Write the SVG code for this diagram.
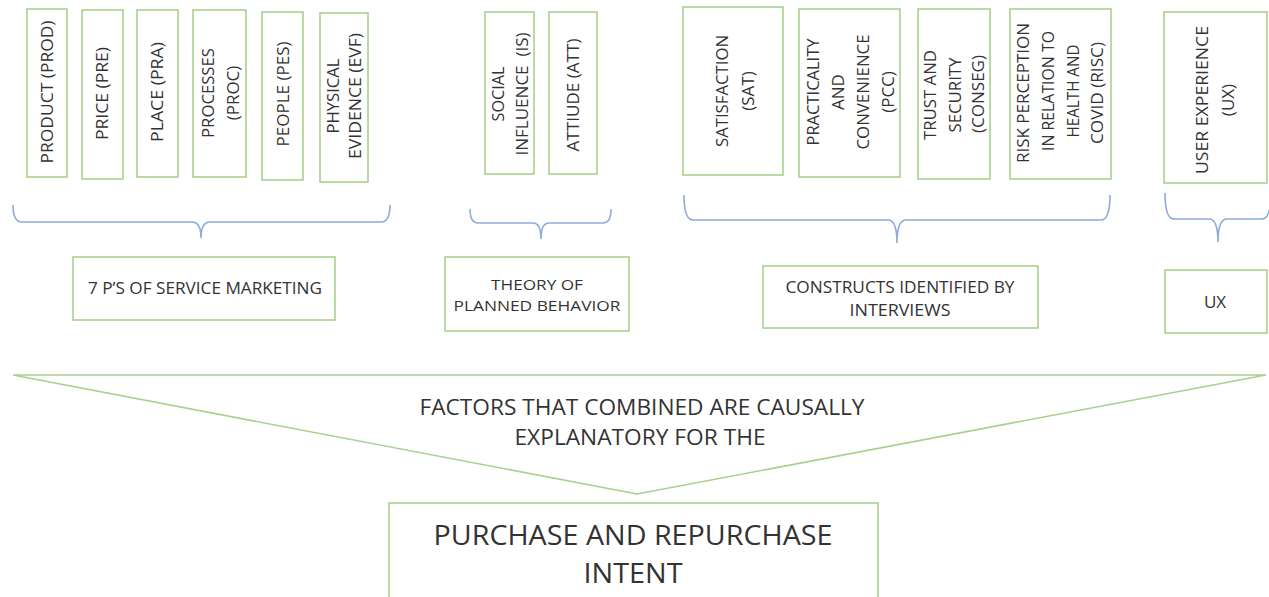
<svg xmlns="http://www.w3.org/2000/svg" width="1269" height="597" viewBox="0 0 1269 597">
<style>
.box{fill:#fff;stroke:#a9d18e;stroke-width:1.6}
.br{fill:none;stroke:#8eaadb;stroke-width:1.6}
text{font-family:"Open Sans","Liberation Sans",sans-serif;fill:#333;text-anchor:middle}
.v{font-size:17px}
.h{font-size:17px}
.t{font-size:15px}
.m{font-size:22px}
.b{font-size:28px}
</style>
<rect width="1269" height="597" fill="#fff"/>
<g id="connectors">
<path class="br" d="M13,205 Q13,222 22,222 L192,222 Q201,222 201,238 Q201,222 210,222 L381,222 Q390,222 390,205"/>
<path class="br" d="M470,209 Q470,223 478,223 L533,223 Q541,223 541,239 Q541,223 549,223 L603,223 Q611,223 611,209"/>
<path class="br" d="M684,195 Q684,220 693,220 L888,220 Q897,220 897,243 Q897,220 906,220 L1101,220 Q1110,220 1110,195"/>
<path class="br" d="M1165,193 Q1165,219 1174,219 L1209,219 Q1218,219 1218,242 Q1218,219 1227,219 L1262,219 Q1271,219 1271,193"/>
</g>
<g id="prod"><rect class="box" x="27" y="9" width="40" height="168"/>
<text class="v" transform="translate(53,92) rotate(-90)" textLength="143" lengthAdjust="spacingAndGlyphs">PRODUCT (PROD)</text></g>
<g id="pre"><rect class="box" x="82" y="10" width="41" height="169"/>
<text class="v" transform="translate(108,93.5) rotate(-90)" textLength="93" lengthAdjust="spacingAndGlyphs">PRICE (PRE)</text></g>
<g id="pra"><rect class="box" x="137" y="10" width="41" height="167"/>
<text class="v" transform="translate(163,92) rotate(-90)" textLength="100" lengthAdjust="spacingAndGlyphs">PLACE (PRA)</text></g>
<g id="proc"><rect class="box" x="193" y="10" width="53" height="167"/>
<text class="v" transform="translate(214,93) rotate(-90)" textLength="90" lengthAdjust="spacingAndGlyphs">PROCESSES</text>
<text class="v" transform="translate(239,93) rotate(-90)">(PROC)</text></g>
<g id="pes"><rect class="box" x="262" y="12" width="41" height="168"/>
<text class="v" transform="translate(289,94) rotate(-90)" textLength="105" lengthAdjust="spacingAndGlyphs">PEOPLE (PES)</text></g>
<g id="evf"><rect class="box" x="320" y="13" width="48" height="169"/>
<text class="v" transform="translate(339,96) rotate(-90)" textLength="75" lengthAdjust="spacingAndGlyphs">PHYSICAL</text>
<text class="v" transform="translate(361,96) rotate(-90)" textLength="126" lengthAdjust="spacingAndGlyphs">EVIDENCE (EVF)</text></g>
<g id="is"><rect class="box" x="485" y="12" width="49" height="162"/>
<text class="v" transform="translate(504,94) rotate(-90)" textLength="55" lengthAdjust="spacingAndGlyphs">SOCIAL</text>
<text class="v" transform="translate(528,94) rotate(-90)" textLength="123" lengthAdjust="spacingAndGlyphs">INFLUENCE&#160; (IS)</text></g>
<g id="att"><rect class="box" x="549" y="12" width="48" height="162"/>
<text class="v" transform="translate(579,95) rotate(-90)" textLength="113" lengthAdjust="spacingAndGlyphs">ATTIUDE (ATT)</text></g>
<g id="sat"><rect class="box" x="683" y="7" width="100" height="168"/>
<text class="v" transform="translate(728,91) rotate(-90)" textLength="112" lengthAdjust="spacingAndGlyphs">SATISFACTION</text>
<text class="v" transform="translate(754,91) rotate(-90)">(SAT)</text></g>
<g id="pcc"><rect class="box" x="799" y="9" width="101" height="168"/>
<text class="v" transform="translate(819,92) rotate(-90)" textLength="107" lengthAdjust="spacingAndGlyphs">PRACTICALITY</text>
<text class="v" transform="translate(844,92) rotate(-90)">AND</text>
<text class="v" transform="translate(869,92) rotate(-90)" textLength="115" lengthAdjust="spacingAndGlyphs">CONVENIENCE</text>
<text class="v" transform="translate(894,92) rotate(-90)">(PCC)</text></g>
<g id="conseg"><rect class="box" x="918" y="9" width="72" height="170"/>
<text class="v" transform="translate(936,95) rotate(-90)" textLength="90" lengthAdjust="spacingAndGlyphs">TRUST AND</text>
<text class="v" transform="translate(961,95) rotate(-90)" textLength="75" lengthAdjust="spacingAndGlyphs">SECURITY</text>
<text class="v" transform="translate(984,94) rotate(-90)" textLength="78" lengthAdjust="spacingAndGlyphs">(CONSEG)</text></g>
<g id="risc"><rect class="box" x="1010" y="9" width="101" height="170"/>
<text class="v" transform="translate(1029,93) rotate(-90)" textLength="140" lengthAdjust="spacingAndGlyphs">RISK PERCEPTION</text>
<text class="v" transform="translate(1054,91) rotate(-90)" textLength="120" lengthAdjust="spacingAndGlyphs">IN RELATION TO</text>
<text class="v" transform="translate(1079,91) rotate(-90)" textLength="93" lengthAdjust="spacingAndGlyphs">HEALTH AND</text>
<text class="v" transform="translate(1103,93) rotate(-90)" textLength="102" lengthAdjust="spacingAndGlyphs">COVID (RISC)</text></g>
<g id="ux"><rect class="box" x="1164" y="12" width="103" height="171"/>
<text class="v" transform="translate(1208,100) rotate(-90)" textLength="148" lengthAdjust="spacingAndGlyphs">USER EXPERIENCE</text>
<text class="v" transform="translate(1234,100) rotate(-90)">(UX)</text></g>
<g id="sevenps"><rect class="box" x="73" y="257" width="262" height="63"/>
<text class="h" x="205" y="294" textLength="234" lengthAdjust="spacingAndGlyphs">7 P’S OF SERVICE MARKETING</text></g>
<g id="tpb"><rect class="box" x="445" y="257" width="184" height="74"/>
<text class="t" x="537" y="290" textLength="92" lengthAdjust="spacingAndGlyphs">THEORY OF</text>
<text class="t" x="537" y="311" textLength="167" lengthAdjust="spacingAndGlyphs">PLANNED BEHAVIOR</text></g>
<g id="constructs"><rect class="box" x="763" y="266" width="275" height="62"/>
<text class="h" x="900" y="293" textLength="229" lengthAdjust="spacingAndGlyphs">CONSTRUCTS IDENTIFIED BY</text>
<text class="h" x="900" y="316" textLength="101" lengthAdjust="spacingAndGlyphs">INTERVIEWS</text></g>
<g id="uxlabel"><rect class="box" x="1165" y="270" width="102" height="63"/>
<text class="h" x="1215" y="308">UX</text></g>
<g id="factors"><polygon class="box" points="13,375 1266,375 637,494"/>
<text class="m" x="642" y="415" textLength="445" lengthAdjust="spacingAndGlyphs">FACTORS THAT COMBINED ARE CAUSALLY</text>
<text class="m" x="640" y="445" textLength="251" lengthAdjust="spacingAndGlyphs">EXPLANATORY FOR THE</text></g>
<g id="purchase"><rect class="box" x="389" y="503" width="489" height="110"/>
<text class="b" x="633" y="545" textLength="399" lengthAdjust="spacingAndGlyphs">PURCHASE AND REPURCHASE</text>
<text class="b" x="633" y="583" textLength="99" lengthAdjust="spacingAndGlyphs">INTENT</text></g>
</svg>
